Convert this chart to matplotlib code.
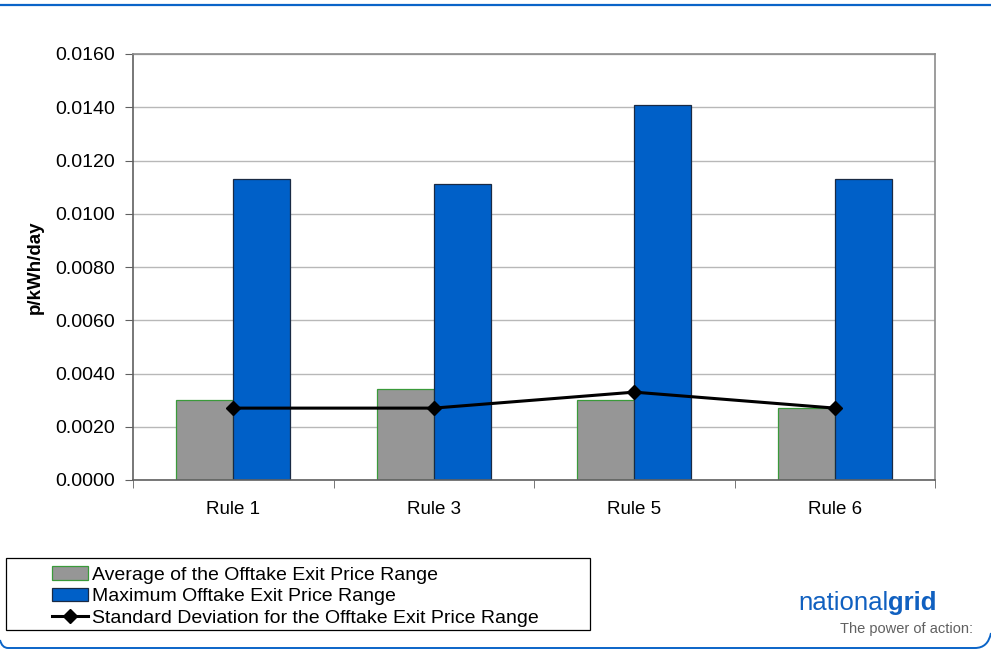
import numpy as np
import matplotlib.pyplot as plt
from matplotlib.lines import Line2D
from matplotlib.patches import Rectangle
from matplotlib.path import Path
from matplotlib.patches import PathPatch

plt.rcParams['font.family'] = ['Liberation Sans', 'DejaVu Sans']

# data
rules = ["Rule 1", "Rule 3", "Rule 5", "Rule 6"]
avg_range = [0.0030, 0.0034, 0.0030, 0.0027]
max_range = [0.0113, 0.0111, 0.0141, 0.0113]
std_range = [0.0027, 0.0027, 0.0033, 0.0027]

W, H = 991, 653
fig = plt.figure(figsize=(W / 100, H / 100), dpi=100)
ax = fig.add_axes([133 / W, 1 - 480 / H, (935 - 133) / W, (480 - 54) / H])

x = np.arange(len(rules))
w = 0.285
b1 = ax.bar(x - w/2, avg_range, w, color="#969696", edgecolor="#3a9a3a", linewidth=0.9,
            label="Average of the Offtake Exit Price Range", zorder=2)
b2 = ax.bar(x + w/2, max_range, w, color="#0060c8", edgecolor="#1a2a44", linewidth=0.9,
            label="Maximum Offtake Exit Price Range", zorder=2)
ln, = ax.plot(x, std_range, color="black", linewidth=2.2, marker="D", markersize=7,
              label="Standard Deviation for the Offtake Exit Price Range", zorder=3)

yt = np.arange(0, 0.0161, 0.002)
ax.set_xlim(-0.5, len(rules) - 0.5)
ax.set_ylim(0, 0.016)
ax.set_yticks(yt)
ax.set_yticklabels([f"{v:.4f}" for v in yt], fontsize=14)
ax.set_xticks(x)
ax.set_xticklabels(rules, fontsize=13.5)
ax.tick_params(axis="x", length=0, pad=15)
ax.set_xticks(np.arange(-0.5, len(rules)), minor=True)
ax.tick_params(axis="x", which="minor", length=6, color="#606060")
ax.tick_params(axis="y", length=6, color="#606060", direction="out", pad=7)
ax.yaxis.grid(True, color="#b8b8b8", linewidth=1.0, zorder=0)
ax.set_axisbelow(True)
for s in ax.spines.values():
    s.set_color("#8c8c8c")
    s.set_linewidth(1.2)
ax.spines["bottom"].set_color("#606060")
ax.spines["left"].set_color("#606060")
ax.set_ylabel("p/kWh/day", fontsize=13.5, fontweight="bold", labelpad=8)

# legend box drawn separately, entries inset like the original
fig.add_artist(Rectangle((6 / W, 1 - 630 / H), (590 - 6) / W, (630 - 558) / H,
                         transform=fig.transFigure, facecolor="white",
                         edgecolor="black", linewidth=0.9))
leg = fig.legend(handles=[b1, b2, ln], loc="upper left",
                 bbox_to_anchor=(52 / W, 1 - 566 / H), bbox_transform=fig.transFigure,
                 fontsize=14, frameon=False, borderpad=0, labelspacing=0.2,
                 handlelength=1.85, handleheight=0.7, handletextpad=0.2, borderaxespad=0)

# decorative border lines
blue = "#0a64c8"
fig.add_artist(Line2D([0, 1], [1 - 5 / H, 1 - 5 / H], color=blue, linewidth=1.6))
verts = [(0, 1 - 640 / H), (2 / W, 1 - 648 / H), (8 / W, 1 - 648 / H),
         (975 / W, 1 - 648 / H), (988 / W, 1 - 648 / H), (991 / W, 1 - 633 / H)]
codes = [Path.MOVETO, Path.CURVE3, Path.CURVE3, Path.LINETO, Path.CURVE3, Path.CURVE3]
fig.add_artist(PathPatch(Path(verts, codes), transform=fig.transFigure,
                         facecolor="none", edgecolor=blue, linewidth=1.4))

# logo
t1 = fig.text(798 / W, 1 - 610 / H, "national", color="#1060c0", fontsize=18.5,
              ha="left", va="baseline")
fig.canvas.draw()
bb = t1.get_window_extent()
fig.text(bb.x1 / W, 1 - 610 / H, "grid", color="#1060c0", fontsize=18.5,
         fontweight="bold", ha="left", va="baseline")
fig.text(973 / W, 1 - 633 / H, "The power of action:", color="#606060", fontsize=10.5,
         ha="right", va="baseline")

fig.savefig("out.png", dpi=100)
